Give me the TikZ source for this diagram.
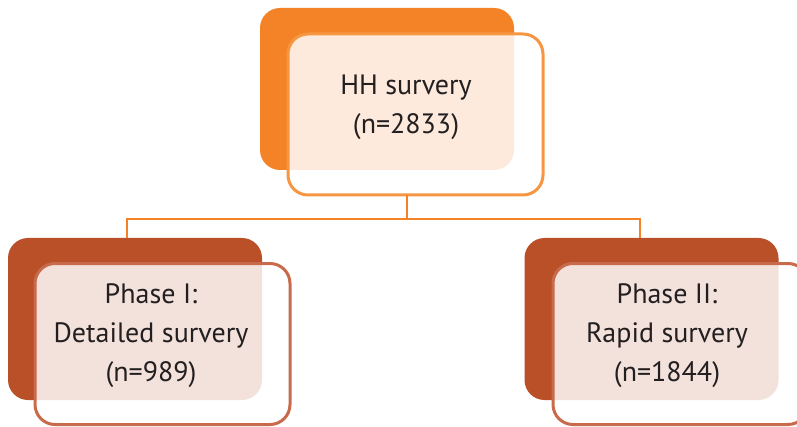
\documentclass[tikz,border=0pt]{standalone}
\usepackage{fontspec}
\setmainfont{PT Sans}
\usetikzlibrary{positioning,calc}

\definecolor{hhorange}{RGB}{244,130,38}
\definecolor{hhedge}{RGB}{247,150,66}
\definecolor{phrust}{RGB}{185,80,40}
\definecolor{phedge}{RGB}{200,106,76}
\definecolor{txtgray}{RGB}{35,31,32}

\begin{document}
\begin{tikzpicture}[x=1pt,y=1pt]

  \tikzstyle{back} = [rectangle, rounded corners=20pt, inner sep=0pt, outer sep=0pt, minimum width=254pt, minimum height=162pt]
  \tikzstyle{front} = [rectangle, rounded corners=20pt, inner sep=0pt, outer sep=0pt, minimum width=255pt, minimum height=161pt, fill=white, fill opacity=0.84, line width=3pt]
  \tikzstyle{label} = [align=center, text=txtgray, font=\fontsize{28}{39}\selectfont]
  \tikzstyle{link} = [-, color=hhorange, line width=2.5pt]

  \useasboundingbox (0,0) rectangle (797,426);

  % HH survey
  \node[back, fill=hhorange] (hhback) at (387,337) {};
  \node[front, draw=hhedge] (hh) at (415.5,311.5) {};
  \node[label] (hhtext) at (406,319) {HH survery\\(n=2833)};

  % Phase I
  \node[back, fill=phrust] (p1back) at (135,107) {};
  \node[front, draw=phedge] (p1) at (162.5,82) {};
  \node[label] (p1text) at (151,90) {Phase I:\\Detailed survery\\(n=989)};

  % Phase II
  \node[back, fill=phrust] (p2back) at (651.5,107) {};
  \node[front, draw=phedge] (p2) at (680.5,82) {};
  \node[label] (p2text) at (667,90) {Phase II:\\Rapid survery\\(n=1844)};

  \coordinate (split) at (407,207);

  \draw[link] ([xshift=-8.5pt]hh.south) -- (split);
  \draw[link] (split) -| ([xshift=-8pt]p1back.north);
  \draw[link] (split) -| ([xshift=-11.5pt]p2back.north);

\end{tikzpicture}
\end{document}
